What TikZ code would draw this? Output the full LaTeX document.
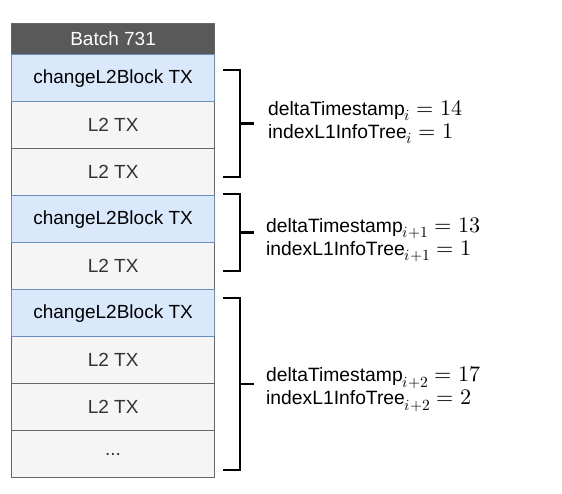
\documentclass[tikz,border=0pt]{standalone}
\usepackage{fontspec}
\usepackage{unicode-math}
\setmathfont{Latin Modern Math}[Scale=1.15]
\setmainfont{Liberation Sans}
\begin{document}
\begin{tikzpicture}[x=1pt,y=-1pt,
  cell/.style={draw=#1, line width=1.2pt, minimum width=203pt, minimum height=47pt, inner sep=0pt, anchor=north west, font=\fontsize{19}{22}\selectfont},
  headcell/.style={cell=hdrline, fill=hdrfill, text=white, minimum height=31pt},
  blockcell/.style={cell=blueline, fill=bluefill, text=black},
  txcell/.style={cell=grayline, fill=grayfill, text=txtgray},
  brk/.style={line width=2.6pt, line cap=butt},
  lbl/.style={anchor=west, align=left, inner sep=0pt, font=\fontsize{19.3}{23}\selectfont}]
\definecolor{hdrfill}{HTML}{595959}
\definecolor{hdrline}{HTML}{666666}
\definecolor{bluefill}{HTML}{DAE8FC}
\definecolor{blueline}{HTML}{6C8EBF}
\definecolor{grayfill}{HTML}{F5F5F5}
\definecolor{grayline}{HTML}{666666}
\definecolor{txtgray}{HTML}{333333}
\useasboundingbox (0,0) rectangle (562,493);
\node[headcell] (hdr) at (11,23) {Batch 731};
\node[txcell] (r2) at (11,101) {L2 TX};
\node[txcell] (r3) at (11,148) {L2 TX};
\node[txcell] (r5) at (11,242) {L2 TX};
\node[txcell] (r7) at (11,336) {L2 TX};
\node[txcell] (r8) at (11,383) {L2 TX};
\node[txcell] (r9) at (11,430) {...};
\node[blockcell] (r1) at (11,54) {changeL2Block TX};
\node[blockcell] (r4) at (11,195) {changeL2Block TX};
\node[blockcell] (r6) at (11,289) {changeL2Block TX};
% brackets
\draw[brk] (223,70) -- (240,70) -- (240,177) -- (223,177);
\draw[brk] (240,123.5) -- (254,123.5);
\draw[brk] (223,194) -- (240,194) -- (240,271) -- (223,271);
\draw[brk] (240,232.5) -- (254,232.5);
\draw[brk] (223,298) -- (240,298) -- (240,470) -- (223,470);
\draw[brk] (240,384) -- (254,384);
% labels
\node[lbl] (l1) at (268,122) {deltaTimestamp$_i = 14$\\indexL1InfoTree$_i = 1$};
\node[lbl] (l2) at (266,240) {deltaTimestamp$_{i+1} = 13$\\indexL1InfoTree$_{i+1} = 1$};
\node[lbl] (l3) at (266,389) {deltaTimestamp$_{i+2} = 17$\\indexL1InfoTree$_{i+2} = 2$};
\end{tikzpicture}
\end{document}
